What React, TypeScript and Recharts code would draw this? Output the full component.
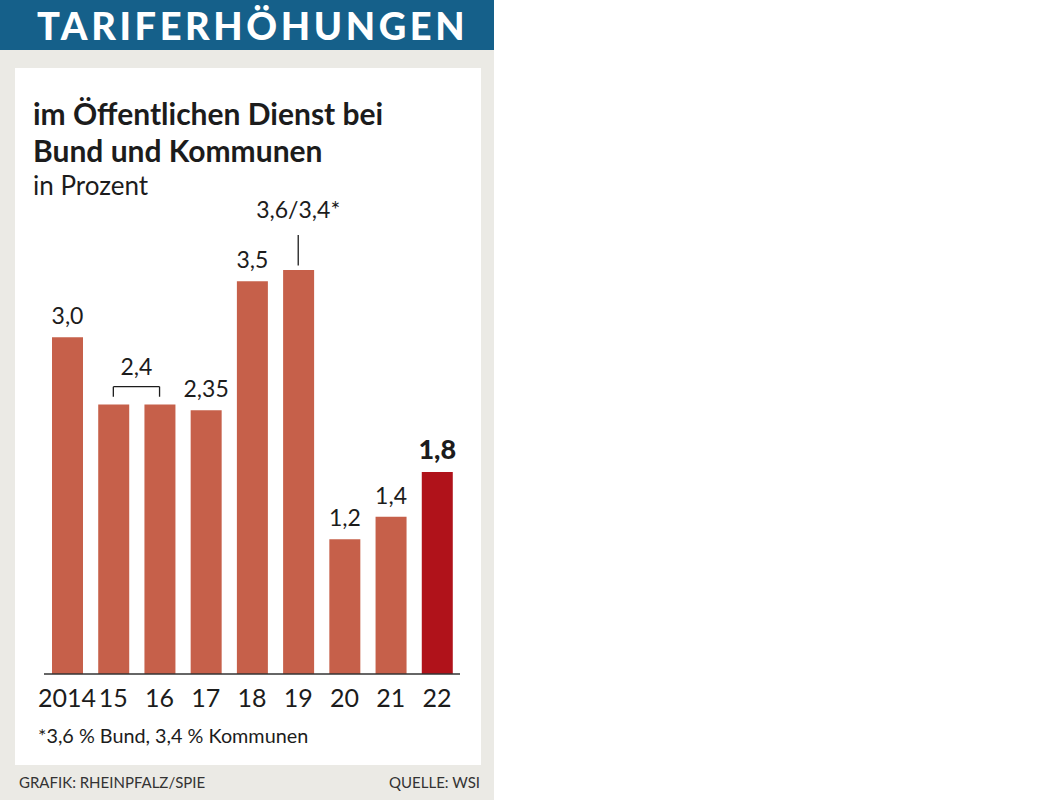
import { BarChart, Bar, XAxis, YAxis, Cell, LabelList, ReferenceLine } from "recharts";

const years = ["2014", "15", "16", "17", "18", "19", "20", "21", "22"];
const rises = [3.0, 2.4, 2.4, 2.35, 3.5, 3.6, 1.2, 1.4, 1.8];
const barLabels = ["3,0", "", "", "2,35", "3,5", "", "1,2", "1,4", "1,8"];
const pairYears = ["15", "16"];
const pairLabel = "2,4";
const splitYear = "19";
const splitLabel = "3,6/3,4*";

const data = years.map((year, i) => ({
  year,
  rise: rises[i],
  label: barLabels[i],
}));

const INK = "#1c1c1c";
const BAR = "#c6604a";
const HIGHLIGHT = "#b0121a";
const FONT = "Lato, 'Open Sans', sans-serif";

const renderValue = (props: any) => {
  const vb = props.viewBox || props;
  const text = props.value;
  if (!text) return null;
  const last = props.index === data.length - 1;
  return (
    <text
      x={vb.x + vb.width / 2}
      y={vb.y - 13}
      textAnchor="middle"
      fill={INK}
      fontFamily={FONT}
      fontSize={last ? 27 : 23}
      fontWeight={last ? 900 : 400}
    >
      {text}
    </text>
  );
};

export default function App() {
  return (
    <div style={{ position: "absolute", left: 0, top: 0, width: 1052, height: 800, background: "#fff" }}>
      <div style={{ position: "absolute", left: 0, top: 0, width: 494, height: 800, background: "#ebeae5" }} />
      <div style={{ position: "absolute", left: 0, top: 0, width: 494, height: 50, background: "#15608a" }} />
      <div style={{ position: "absolute", left: 15, top: 68, width: 466, height: 697, background: "#fff" }} />
      <svg width={494} height={800} style={{ position: "absolute", left: 0, top: 0 }}>
        <text x={37} y={40} fill="#fff" fontFamily={FONT} fontWeight={900} fontSize={38} letterSpacing={3.6}>
          TARIFERHÖHUNGEN
        </text>
        <text x={33} y={125} fill={INK} fontFamily={FONT} fontWeight={700} fontSize={30}>
          im Öffentlichen Dienst bei
        </text>
        <text x={33} y={162} fill={INK} fontFamily={FONT} fontWeight={700} fontSize={30}>
          Bund und Kommunen
        </text>
        <text x={33} y={195} fill={INK} fontFamily={FONT} fontSize={26}>
          in Prozent
        </text>
        <text x={38} y={743} fill={INK} fontFamily={FONT} fontSize={19.8}>
          *3,6 % Bund, 3,4 % Kommunen
        </text>
        <text x={19} y={788} fill="#333" fontFamily={FONT} fontSize={15}>
          GRAFIK: RHEINPFALZ/SPIE
        </text>
        <text x={480} y={788} fill="#333" fontFamily={FONT} fontSize={15} textAnchor="end">
          QUELLE: WSI
        </text>
      </svg>
      <div style={{ position: "absolute", left: 0, top: 0 }}>
        <BarChart
          width={494}
          height={800}
          data={data}
          margin={{ top: 225, right: 34, bottom: 86, left: 44 }}
          barSize={31}
        >
          <YAxis hide domain={[0, 4]} />
          <XAxis
            dataKey="year"
            height={40}
            tickLine={false}
            tickMargin={9}
            axisLine={{ stroke: "#333", strokeWidth: 1.5 }}
            tick={{ fill: INK, fontSize: 25, fontFamily: FONT }}
            interval={0}
          />
          <Bar dataKey="rise" isAnimationActive={false}>
            {data.map((d, i) => (
              <Cell key={d.year} fill={i === data.length - 1 ? HIGHLIGHT : BAR} />
            ))}
            <LabelList dataKey="label" content={renderValue} />
          </Bar>
          <ReferenceLine
            segment={[{ x: pairYears[0], y: 2.56 }, { x: pairYears[1], y: 2.56 }]}
            stroke={INK}
            strokeWidth={1.3}
            ifOverflow="visible"
            label={{ value: pairLabel, position: "top", offset: 12, fill: INK, fontSize: 23, fontFamily: FONT }}
          />
          <ReferenceLine
            segment={[{ x: pairYears[0], y: 2.47 }, { x: pairYears[0], y: 2.56 }]}
            stroke={INK}
            strokeWidth={1.3}
            ifOverflow="visible"
          />
          <ReferenceLine
            segment={[{ x: pairYears[1], y: 2.47 }, { x: pairYears[1], y: 2.56 }]}
            stroke={INK}
            strokeWidth={1.3}
            ifOverflow="visible"
          />
          <ReferenceLine
            segment={[{ x: splitYear, y: 3.64 }, { x: splitYear, y: 3.91 }]}
            stroke={INK}
            strokeWidth={1.3}
            ifOverflow="visible"
            label={{ value: splitLabel, position: "top", offset: 17, fill: INK, fontSize: 23, fontFamily: FONT }}
          />
        </BarChart>
      </div>
    </div>
  );
}
